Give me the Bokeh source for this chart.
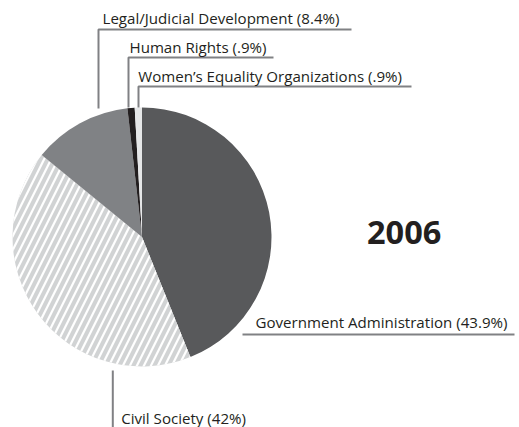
import numpy as np
from bokeh.plotting import figure
from bokeh.models import Range1d, ColumnDataSource
from bokeh.core.properties import value
from bokeh.embed import file_html
from bokeh.resources import INLINE

# ---- data ----
categories = ["Government Administration", "Civil Society", "Legal/Judicial Development",
              "Human Rights", "Women's Equality Organizations"]
shares = [43.9, 42.0, 12.3, 0.9, 0.9]
label_texts = ["Government Administration (43.9%)", "Civil Society (42%)",
               "Legal/Judicial Development (8.4%)", "Human Rights (.9%)",
               "Women\u2019s Equality Organizations (.9%)"]
year = "2006"
colors = ["#58595b", "#d1d3d4", "#808285", "#231f20", "#e6e7e8"]
hatches = [" ", "/", " ", " ", " "]

# ---- layout (page pixel helpers) ----
W, H = 519, 427
def X(xi):
    return xi
def Y(yi):
    return H - yi

cx, cy, r = X(141.5), Y(236.5), 129.5

p = figure(width=W, height=H, x_range=Range1d(0, W), y_range=Range1d(0, H),
           output_backend="svg", toolbar_location=None, min_border=0)
p.axis.visible = False
p.grid.visible = False
p.outline_line_color = None
p.background_fill_color = "white"
p.border_fill_color = "white"

frac = np.array(shares) / np.sum(shares)
ends = np.cumsum(frac)
starts = ends - frac
src = ColumnDataSource(dict(
    cat=categories,
    start=np.pi / 2 - 2 * np.pi * ends,
    end=np.pi / 2 - 2 * np.pi * starts,
    color=colors,
    hatch=hatches,
))
p.wedge(x=cx, y=cy, radius=r, start_angle="start", end_angle="end",
        fill_color="color", line_color=None, hatch_pattern="hatch",
        hatch_color="white", hatch_scale=14, hatch_weight=2.2, source=src)

# leader lines
line_col = "#808184"
xs = [[X(98), X(98), X(351)],
      [X(128), X(128), X(273)],
      [X(138), X(138), X(411)],
      [X(242), X(514)],
      [X(112.3), X(112.3)]]
ys = [[Y(108), Y(29), Y(29)],
      [Y(107), Y(57), Y(57)],
      [Y(107), Y(86), Y(86)],
      [Y(334), Y(334)],
      [Y(370), Y(430)]]
p.multi_line(xs=xs, ys=ys, line_color=line_col, line_width=2)

# labels: order gov, civil, legal, hr, women
fs = 15.1
shift = 0.33 * fs
lx = [X(255), X(120.7), X(102), X(129), X(137.7)]
ly = [Y(326.7 - shift), Y(422.0 - shift), Y(22.7 - shift), Y(51.7 - shift), Y(80 - shift)]
p.text(x=lx, y=ly, text=label_texts, text_font=value("Open Sans"),
       text_font_size=f"{fs}px", text_color="#231f20", text_baseline="alphabetic",
       text_align="left")

yfs = 32.5
p.text(x=[X(366.5)], y=[Y(242.7 - 0.33 * yfs)], text=[year], text_font=value("Open Sans"),
       text_font_size=f"{yfs}px", text_font_style="bold", text_color="#231f20",
       text_baseline="alphabetic", text_align="left")

open("out.html", "w").write(file_html(p, INLINE))
